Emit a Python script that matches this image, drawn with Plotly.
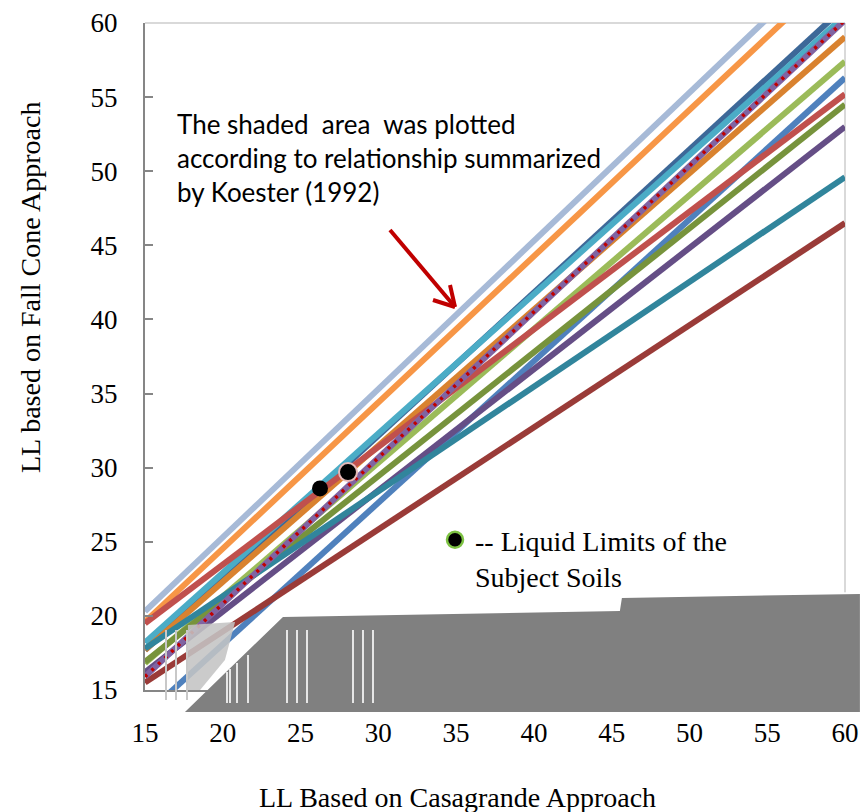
import plotly.graph_objects as go

# ---------------- data ----------------
x_ends = [15, 60]

line_colors = ["#A7BAD7", "#F79646", "#3D6898", "#4BACC6", "#D9822F", "#9BBB59",
               "#4F81BD", "#C0504D", "#77933C", "#654E86", "#31859C", "#9A3B38", "#8064A2"]
line_y15 = [20.3, 19.6, 17.7, 18.2, 17.7, 16.8, 13.3, 19.5, 16.9, 16.2, 17.8, 15.5, 15.9]
line_y60 = [65.3, 64.0, 61.1, 60.5, 59.05, 57.4, 56.3, 55.2, 54.5, 53.0, 49.6, 46.5, 60.2]

ref_y = [15.9, 60.2]          # red dotted reference line

soil_ll_cas = [26.25, 28.05]  # LL Casagrande of subject soils
soil_ll_fc = [28.6, 29.7]     # LL fall cone of subject soils

x_ticks = [15, 20, 25, 30, 35, 40, 45, 50, 55, 60]
y_ticks = [15, 20, 25, 30, 35, 40, 45, 50, 55, 60]

# shaded-area artefact outline (data units)
shade_x = [17.57, 23.87, 45.53, 45.66, 60.96, 60.96]
shade_y = [13.52, 19.93, 20.33, 21.21, 21.48, 13.52]
white_x = [18.54, 20.14, 24.32, 60.96, 60.96]
white_y = [13.52, 17.02, 20.87, 21.61, 13.52]
blob_x = [17.76, 20.79, 20.14, 18.54, 17.76]
blob_y = [19.39, 19.59, 17.02, 15.0, 15.0]

XMIN, XMAX, YMIN, YMAX = 15, 60, 15, 60

def dx(v):
    return (v - XMIN) / (XMAX - XMIN)

def dy(v):
    return (v - YMIN) / (YMAX - YMIN)

def poly_path(xs, ys):
    pts = [f"{dx(a):.4f},{dy(b):.4f}" for a, b in zip(xs, ys)]
    return "M" + " L".join(pts) + " Z"

fig = go.Figure()

for c, a, b in zip(line_colors, line_y15, line_y60):
    fig.add_trace(go.Scatter(x=x_ends, y=[a, b], mode="lines",
                             line=dict(color=c, width=6), showlegend=False,
                             hoverinfo="skip"))

fig.add_trace(go.Scatter(x=x_ends, y=ref_y, mode="lines",
                         line=dict(color="#C00000", width=3.5, dash="3px,6px"),
                         showlegend=False))

fig.add_trace(go.Scatter(x=soil_ll_cas[:1], y=soil_ll_fc[:1], mode="markers",
                         marker=dict(color="black", size=16), showlegend=False))
fig.add_trace(go.Scatter(x=soil_ll_cas[1:], y=soil_ll_fc[1:], mode="markers",
                         marker=dict(color="black", size=18,
                                     line=dict(color="#E6B9B8", width=2)),
                         showlegend=False))

# legend entry
fig.add_trace(go.Scatter(x=[None], y=[None], mode="markers",
                         marker=dict(color="black", size=16,
                                     line=dict(color="#7DC243", width=2.5)),
                         name="-- Liquid Limits of the<br>Subject Soils",
                         showlegend=True))

shapes = []
shapes.append(dict(type="path", xref="x domain", yref="y domain",
                   path=poly_path(white_x, white_y), fillcolor="white",
                   line=dict(width=0), layer="above"))
shapes.append(dict(type="path", xref="x domain", yref="y domain",
                   path=poly_path(blob_x, blob_y), fillcolor="rgba(196,196,196,0.88)",
                   line=dict(width=0), layer="above"))
shapes.append(dict(type="path", xref="x domain", yref="y domain",
                   path=poly_path(shade_x, shade_y), fillcolor="#808080",
                   line=dict(width=0), layer="above"))

# pixel helpers for decorations
L, T, W, H = 145, 23, 700, 667
def px(v):
    return (v - L) / W
def py(v):
    return (T + H - v) / H

for xv, top in [(227, 672), (230, 669), (237, 663), (248, 655),
                (287, 630), (297, 630), (307, 630), (353, 630), (363, 630), (373, 630)]:
    shapes.append(dict(type="line", xref="x domain", yref="y domain",
                       x0=px(xv), x1=px(xv), y0=py(top), y1=py(703),
                       line=dict(color="#E6E6E6", width=2), layer="above"))
for xv in [166, 176, 187]:
    shapes.append(dict(type="line", xref="x domain", yref="y domain",
                       x0=px(xv), x1=px(xv), y0=py(630), y1=py(700),
                       line=dict(color="#C8C8C8", width=2), layer="above"))

# plot border top/right
shapes.append(dict(type="line", xref="x domain", yref="y domain", x0=0, x1=1, y0=1, y1=1,
                   line=dict(color="#D9D9D9", width=2), layer="below"))
shapes.append(dict(type="line", xref="x domain", yref="y domain", x0=1, x1=1, y0=0, y1=1,
                   line=dict(color="#D9D9D9", width=2), layer="below"))

# red arrow (line + open head)
for (a, b, c, d) in [(390, 230, 455, 307), (433, 300, 455, 307), (450, 285, 455, 307)]:
    shapes.append(dict(type="line", xref="x domain", yref="y domain",
                       x0=px(a), y0=py(b), x1=px(c), y1=py(d),
                       line=dict(color="#C00000", width=4), layer="above"))

serif = "Liberation Serif, Times New Roman, serif"
annotations = [
    dict(text="The shaded\u00a0 area\u00a0 was plotted<br>according to relationship summarized<br>by Koester (1992)",
         xref="paper", yref="paper", x=px(175), y=py(158), xanchor="left", yanchor="middle",
         align="left", showarrow=False,
         font=dict(family="Lato, Carlito, sans-serif", size=26, color="black")),
    dict(text="LL based on Fall Cone Approach", xref="paper", yref="paper",
         x=px(30), y=py(288), xanchor="center", yanchor="middle", textangle=-90, showarrow=False,
         font=dict(family=serif, size=28, color="black")),
    dict(text="LL Based on Casagrande Approach", xref="paper", yref="paper",
         x=px(457), y=py(797), xanchor="center", yanchor="middle", showarrow=False,
         font=dict(family=serif, size=28, color="black")),
]

tickfont = dict(family=serif, size=27, color="black")

fig.update_layout(
    width=861, height=812,
    margin=dict(l=L, r=861 - L - W, t=T, b=812 - T - H, autoexpand=False),
    paper_bgcolor="white", plot_bgcolor="white",
    shapes=shapes, annotations=annotations,
    showlegend=True,
    legend=dict(x=px(435), y=py(515), xanchor="left", yanchor="top",
                bgcolor="rgba(0,0,0,0)", valign="top",
                font=dict(family=serif, size=28, color="black")),
    xaxis=dict(range=[XMIN, XMAX], tickvals=x_ticks, ticktext=[str(v) for v in x_ticks],
               showgrid=False, zeroline=False, showline=True, linecolor="#868686", linewidth=2,
               ticks="", tickfont=tickfont, ticklabelstandoff=18, automargin=False),
    yaxis=dict(range=[YMIN, YMAX], tickvals=y_ticks, ticktext=[str(v) for v in y_ticks],
               showgrid=False, zeroline=False, showline=True, linecolor="#868686", linewidth=2,
               ticks="inside", ticklen=8, tickwidth=2, tickcolor="#868686",
               tickfont=tickfont, ticklabelstandoff=20, automargin=False),
)

fig.write_html("out.html")
